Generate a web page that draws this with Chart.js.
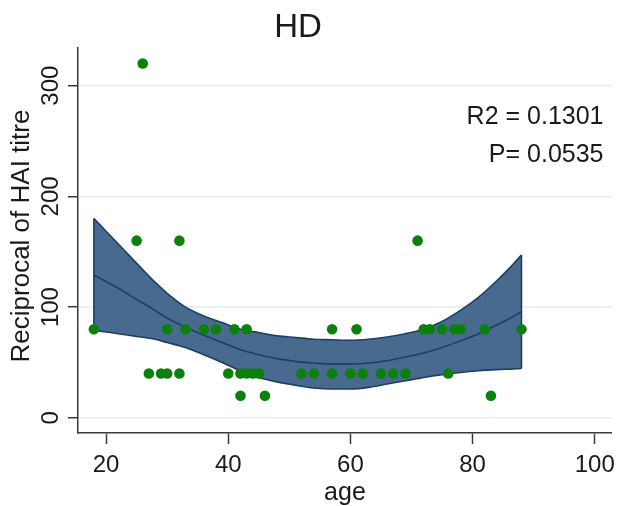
<!DOCTYPE html>
<html>
<head>
<meta charset="utf-8">
<title>HD</title>
<script src="https://cdn.jsdelivr.net/npm/chart.js@4/dist/chart.umd.min.js"></script>
<style>
  html, body { margin: 0; padding: 0; background: #ffffff; }
  canvas { display: block; }
</style>
</head>
<body>
<canvas id="chart" width="622" height="506"></canvas>
<script>
// Labels
const chartTitle = 'HD';
const xAxisTitle = 'age';
const yAxisTitle = 'Reciprocal of HAI titre';
const xTicks = [20, 40, 60, 80, 100];
const yTicks = [0, 100, 200, 300];
const statLines = ['R2 = 0.1301', 'P= 0.0535'];

// Individual subjects: age and reciprocal HAI titre
const subjectAges   = [18, 25, 26, 27, 29, 30, 30, 32, 32, 33, 36, 38, 40, 41, 42, 42, 43, 43, 44, 45, 46, 52, 54, 57, 57, 60, 61, 62, 65, 67, 69, 71, 72, 73, 75, 76, 77, 78, 82, 83, 88];
const subjectTitres = [80, 160, 320, 40, 40, 80, 40, 160, 40, 80, 80, 80, 40, 80, 40, 20, 80, 40, 40, 40, 20, 40, 40, 80, 40, 40, 80, 40, 40, 40, 40, 160, 80, 80, 80, 40, 80, 80, 80, 20, 80];

// Quadratic fit with its confidence band
const fitAges   = [18, 20, 22, 25, 28, 30, 33, 36, 39, 42, 45, 48, 51, 54, 57, 60, 63, 66, 69, 72, 75, 78, 81, 84, 86, 88];
const fitValues = [129, 123, 117, 107, 97, 90, 82, 74.5, 68, 61.5, 57, 53.5, 51, 49.5, 48.5, 48.5, 49.5, 51.5, 55, 58.5, 63.5, 69.5, 76, 84, 89.5, 95.7];
const ciUpper   = [180, 168.5, 157, 139.5, 122.5, 112.5, 100, 92, 86, 80, 77, 74, 72.5, 71, 70.5, 70, 71, 73, 76, 80, 87, 97, 109, 124, 135, 147];
const ciLower   = [79, 77.5, 76, 73.5, 71, 68, 63.5, 57, 50, 42.5, 36.5, 32.5, 29.5, 27, 26, 26, 27.5, 30.5, 33.5, 36.5, 39, 41, 42.5, 43.5, 44, 44.5];

const toXY = (xs, ys) => xs.map((x, i) => ({ x: x, y: ys[i] }));
const last = fitAges.length - 1;

const FONT = '"Liberation Sans", Arial, sans-serif';
const INK = '#1a1a1a';
const NAVY = '#1c3e68';
const BAND = '#486a8f';
const DOT = '#0b800b';

// Text that sits outside the scales: title, rotated y labels, fit statistics
const textLayer = {
  id: 'textLayer',
  afterDraw(chart) {
    const { ctx, scales } = chart;
    ctx.save();
    ctx.fillStyle = INK;

    ctx.font = '33px ' + FONT;
    ctx.textAlign = 'center';
    ctx.textBaseline = 'alphabetic';
    ctx.fillText(chartTitle, 298, 36.5);

    ctx.font = '24px ' + FONT;
    yTicks.forEach(v => {
      const py = scales.y.getPixelForValue(v);
      ctx.save();
      ctx.translate(57.5, py);
      ctx.rotate(-Math.PI / 2);
      ctx.fillText(String(v), 0, 0);
      ctx.restore();
    });

    ctx.save();
    ctx.font = '26px ' + FONT;
    ctx.translate(28.5, 236);
    ctx.rotate(-Math.PI / 2);
    ctx.fillText(yAxisTitle, 0, 0);
    ctx.restore();

    ctx.font = '25px ' + FONT;
    ctx.textAlign = 'right';
    ctx.fillText(statLines[0], 603.5, 124);
    ctx.fillText(statLines[1], 603.5, 161.5);
    ctx.restore();
  }
};

const lineStyle = {
  showLine: true,
  pointRadius: 0,
  borderColor: NAVY,
  borderWidth: 1.6,
  fill: false
};

new Chart(document.getElementById('chart'), {
  type: 'scatter',
  data: {
    datasets: [
      {
        label: 'subjects',
        data: toXY(subjectAges, subjectTitres),
        pointRadius: 5.3,
        pointBackgroundColor: DOT,
        pointBorderWidth: 0,
        showLine: false
      },
      Object.assign({ label: 'fit', data: toXY(fitAges, fitValues), cubicInterpolationMode: 'monotone' }, lineStyle),
      Object.assign({ label: 'band start', data: [{ x: fitAges[0], y: ciLower[0] }, { x: fitAges[0], y: ciUpper[0] }] }, lineStyle),
      Object.assign({ label: 'band end', data: [{ x: fitAges[last], y: ciLower[last] }, { x: fitAges[last], y: ciUpper[last] }] }, lineStyle),
      Object.assign({}, lineStyle, { label: 'upper', data: toXY(fitAges, ciUpper), cubicInterpolationMode: 'monotone', fill: '+1', backgroundColor: BAND }),
      Object.assign({ label: 'lower', data: toXY(fitAges, ciLower), cubicInterpolationMode: 'monotone' }, lineStyle)
    ]
  },
  options: {
    responsive: false,
    animation: false,
    devicePixelRatio: 1,
    events: [],
    layout: { padding: { top: 48, right: 7, left: 0, bottom: 0 } },
    plugins: {
      legend: { display: false },
      tooltip: { enabled: false },
      title: { display: false },
      filler: { drawTime: 'beforeDatasetsDraw' }
    },
    scales: {
      x: {
        type: 'linear',
        min: 15.4,
        max: 102.8,
        afterBuildTicks: s => { s.ticks = xTicks.map(v => ({ value: v })); },
        afterFit: s => { s.height = 73; },
        grid: { drawOnChartArea: false, drawTicks: true, tickLength: 11, tickColor: '#3a3a3a', tickWidth: 1.5 },
        border: { display: true, color: '#3a3a3a', width: 1.5 },
        ticks: { autoSkip: false, maxRotation: 0, padding: 7, color: INK, font: { family: FONT, size: 24 } },
        title: { display: true, text: xAxisTitle, color: INK, padding: 0, font: { family: FONT, size: 25, lineHeight: 1 } }
      },
      y: {
        type: 'linear',
        min: -13.7,
        max: 334,
        afterBuildTicks: s => { s.ticks = yTicks.map(v => ({ value: v })); },
        afterFit: s => { s.width = 78; },
        grid: { color: '#e4eded', lineWidth: 1.5, drawTicks: true, tickLength: 10, tickColor: '#3a3a3a', tickWidth: 1.5 },
        border: { display: true, color: '#3a3a3a', width: 1.5 },
        ticks: { display: false }
      }
    }
  },
  plugins: [textLayer]
});
</script>
</body>
</html>
